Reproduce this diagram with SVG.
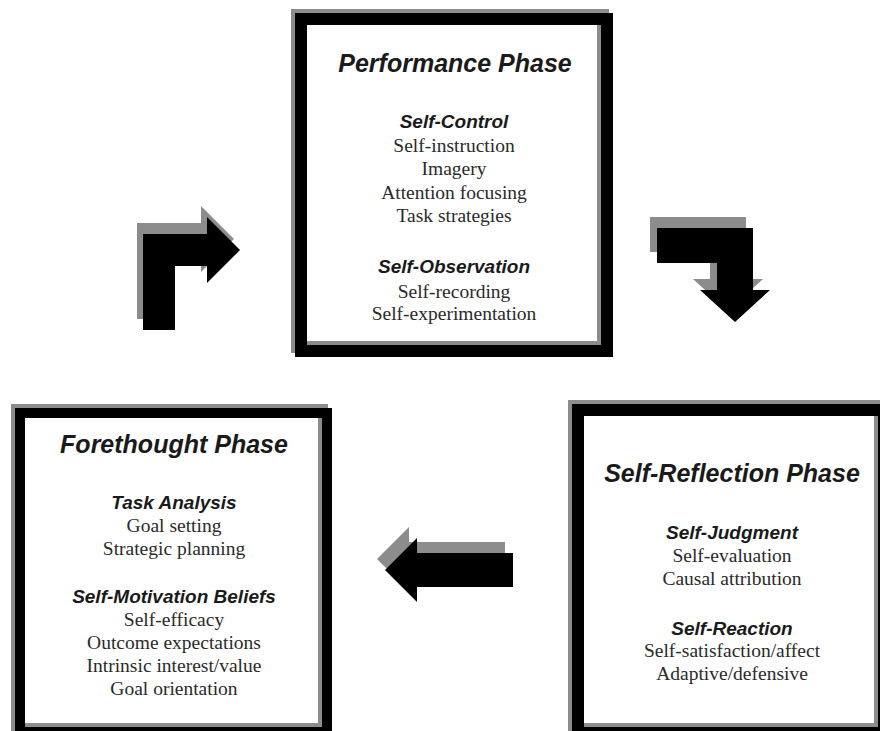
<svg xmlns="http://www.w3.org/2000/svg" width="880" height="731" viewBox="0 0 880 731">
<style>
.frame{fill:none;stroke:#000;}
.shadow{fill:none;stroke:#8c8c8c;}
.t{font-family:"Liberation Sans",Arial,sans-serif;font-style:italic;font-weight:bold;font-size:25px;fill:#1a1a1a;text-anchor:middle;}
.s{font-family:"Liberation Sans",Arial,sans-serif;font-style:italic;font-weight:bold;font-size:19px;fill:#1a1a1a;text-anchor:middle;}
.i{font-family:"Liberation Serif","Times New Roman",serif;font-size:19.5px;fill:#2a2a2a;text-anchor:middle;}
.ab{fill:#000;}
.ag{fill:#8c8c8c;}
</style>
<rect width="880" height="731" fill="#fff"/>
<g id="connectors">
  <g id="arrow-forethought-performance">
    <path class="ag" transform="translate(-6,-11)" d="M143,330 L143,234 L207,234 L207,217 L240,250 L207,283 L207,266 L175,266 L175,330 Z"/>
    <path class="ab" d="M143,330 L143,234 L207,234 L207,217 L240,250 L207,283 L207,266 L175,266 L175,330 Z"/>
  </g>
  <g id="arrow-performance-reflection">
    <path class="ag" transform="translate(-7,-11)" d="M657,228 L753,228 L753,290 L770,290 L735,322 L700,290 L717,290 L717,263 L657,263 Z"/>
    <path class="ab" d="M657,228 L753,228 L753,290 L770,290 L735,322 L700,290 L717,290 L717,263 L657,263 Z"/>
  </g>
  <g id="arrow-reflection-forethought">
    <path class="ag" transform="translate(-8,-11)" d="M513,553 L513,587 L417,587 L417,602 L385,570 L417,538 L417,553 Z"/>
    <path class="ab" d="M513,553 L513,587 L417,587 L417,602 L385,570 L417,538 L417,553 Z"/>
  </g>
</g>
<g id="performance">
  <rect class="shadow" x="297" y="15" width="306" height="332" stroke-width="12"/>
  <rect class="frame" x="301" y="19" width="306" height="332" stroke-width="12"/>
  <text class="t" x="455" y="72">Performance Phase</text>
  <text class="s" x="454" y="128">Self-Control</text>
  <text class="i" x="454" y="152">Self-instruction</text>
  <text class="i" x="454" y="175">Imagery</text>
  <text class="i" x="454" y="199">Attention focusing</text>
  <text class="i" x="454" y="222">Task strategies</text>
  <text class="s" x="454" y="273">Self-Observation</text>
  <text class="i" x="454" y="298">Self-recording</text>
  <text class="i" x="454" y="320">Self-experimentation</text>
</g>
<g id="forethought">
  <rect class="shadow" x="16" y="409" width="307" height="319" stroke-width="10"/>
  <rect class="frame" x="20" y="413" width="307" height="319" stroke-width="10"/>
  <text class="t" x="174" y="453">Forethought Phase</text>
  <text class="s" x="174" y="509">Task Analysis</text>
  <text class="i" x="174" y="532">Goal setting</text>
  <text class="i" x="174" y="555">Strategic planning</text>
  <text class="s" x="174" y="603">Self-Motivation Beliefs</text>
  <text class="i" x="174" y="626">Self-efficacy</text>
  <text class="i" x="174" y="649">Outcome expectations</text>
  <text class="i" x="174" y="672">Intrinsic interest/value</text>
  <text class="i" x="174" y="695">Goal orientation</text>
</g>
<g id="reflection">
  <rect class="shadow" x="574" y="406" width="306" height="323" stroke-width="12"/>
  <rect class="frame" x="578" y="410" width="306" height="323" stroke-width="12"/>
  <text class="t" x="732" y="482">Self-Reflection Phase</text>
  <text class="s" x="732" y="539">Self-Judgment</text>
  <text class="i" x="732" y="562">Self-evaluation</text>
  <text class="i" x="732" y="585">Causal attribution</text>
  <text class="s" x="732" y="635">Self-Reaction</text>
  <text class="i" x="732" y="657">Self-satisfaction/affect</text>
  <text class="i" x="732" y="680">Adaptive/defensive</text>
</g>
</svg>
